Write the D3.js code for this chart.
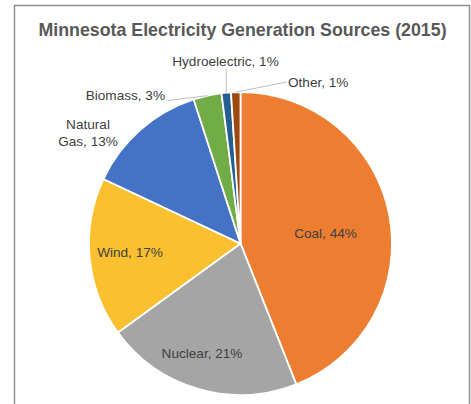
<!DOCTYPE html>
<html>
<head>
<meta charset="utf-8">
<script src="https://cdn.jsdelivr.net/npm/d3@7"></script>
<style>
    body { margin: 0; background: #fff; }
    svg { display: block; font-family: "Liberation Sans", Arial, sans-serif; }
</style>
</head>
<body>
<svg id="chart" width="471" height="404"></svg>
<script>
const sources = ['Coal', 'Nuclear', 'Wind', 'Natural Gas', 'Biomass', 'Hydroelectric', 'Other'];
const shares = [44, 21, 17, 13, 3, 1, 1];
const sliceColors = ['#ed7d31', '#a5a5a5', '#fbc02f', '#4472c4', '#70ad47', '#255e91', '#9e480e'];

// label placement relative to the pie centre (baseline of the first line)
const LABEL_LAYOUT = {
    'Coal': { x: 85, y: -5.5, anchor: 'middle' },
    'Nuclear': { x: -38.5, y: 114.5, anchor: 'middle' },
    'Wind': { x: -110.5, y: 13.5, anchor: 'middle' },
    'Natural Gas': { x: -152.5, y: -114.5, anchor: 'middle', lines: ['Natural', 'Gas, 13%'] },
    'Biomass': { x: -75.5, y: -143.5, anchor: 'end', leader: [-72.5, -143] },
    'Hydroelectric': { x: -15, y: -177.5, anchor: 'middle', leader: [-14.3, -174.5] },
    'Other': { x: 47.5, y: -156.5, anchor: 'start', leader: [46.5, -161.5] }
};

const width = 471, height = 404;
const cx = 240.5, cy = 243.5, radius = 151.5;

const svg = d3.select('#chart');

// outer frame
svg.append('rect')
    .attr('x', 14.5).attr('y', 5.5)
    .attr('width', 455).attr('height', 420)
    .attr('fill', 'none')
    .attr('stroke', '#8e8e8e')
    .attr('stroke-width', 1.5);

svg.append('text')
    .attr('x', 242.5).attr('y', 36)
    .attr('text-anchor', 'middle')
    .attr('font-size', '17.8px')
    .attr('font-weight', 'bold')
    .attr('fill', '#595959')
    .text('Minnesota Electricity Generation Sources (2015)');

const data = sources.map((s, i) => ({ name: s, value: shares[i], color: sliceColors[i] }));

const pie = d3.pie().sort(null).value(d => d.value);
const arc = d3.arc().innerRadius(0).outerRadius(radius);
const edgeArc = d3.arc().innerRadius(radius).outerRadius(radius);

const g = svg.append('g').attr('transform', `translate(${cx},${cy})`);
const arcs = pie(data);

g.selectAll('path.slice')
    .data(arcs)
    .enter()
    .append('path')
    .attr('class', 'slice')
    .attr('d', arc)
    .attr('fill', d => d.data.color)
    .attr('stroke', '#fff')
    .attr('stroke-width', 1.8);

// leader lines for the small outside labels
g.selectAll('line.leader')
    .data(arcs.filter(d => LABEL_LAYOUT[d.data.name].leader))
    .enter()
    .append('line')
    .attr('class', 'leader')
    .attr('x1', d => edgeArc.centroid(d)[0])
    .attr('y1', d => edgeArc.centroid(d)[1])
    .attr('x2', d => LABEL_LAYOUT[d.data.name].leader[0])
    .attr('y2', d => LABEL_LAYOUT[d.data.name].leader[1])
    .attr('stroke', '#bfbfbf')
    .attr('stroke-width', 1);

const labels = g.selectAll('text.label')
    .data(arcs)
    .enter()
    .append('text')
    .attr('class', 'label')
    .attr('font-size', '13.6px')
    .attr('fill', '#404040')
    .attr('text-anchor', d => LABEL_LAYOUT[d.data.name].anchor)
    .attr('x', d => LABEL_LAYOUT[d.data.name].x)
    .attr('y', d => LABEL_LAYOUT[d.data.name].y);

labels.each(function (d) {
    const lay = LABEL_LAYOUT[d.data.name];
    const lines = lay.lines || [`${d.data.name}, ${d.data.value}%`];
    d3.select(this).selectAll('tspan')
        .data(lines)
        .enter()
        .append('tspan')
        .attr('x', lay.x)
        .attr('dy', (l, i) => i === 0 ? 0 : 17)
        .text(l => l);
});
</script>
</body>
</html>
